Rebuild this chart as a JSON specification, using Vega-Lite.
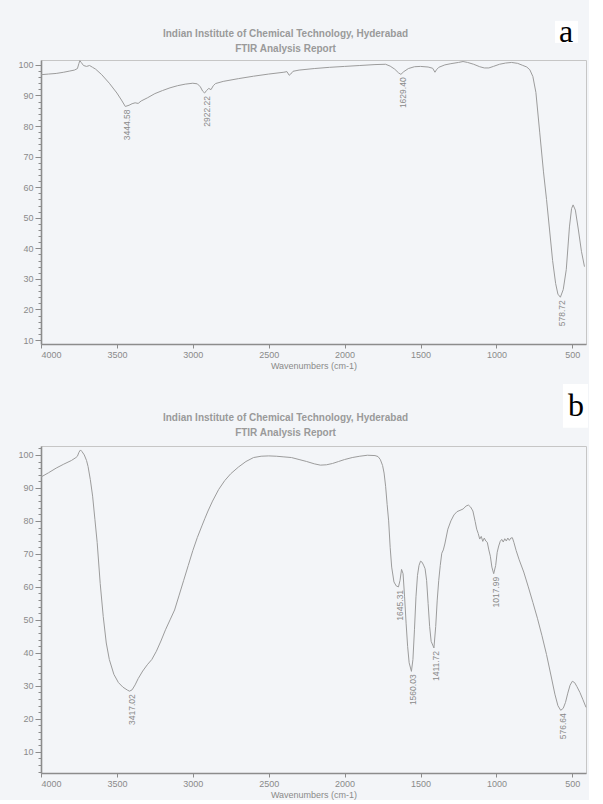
{
  "$schema": "https://vega.github.io/schema/vega-lite/v6.json",
  "background": "#f3f5f8",
  "padding": {"left": 17, "top": 15, "right": 0, "bottom": 0},
  "spacing": 12,
  "config": {
    "font": "Liberation Sans",
    "view": {"stroke": "#c6c6c6", "strokeWidth": 1},
    "axis": {"labelColor": "#8a8a8a", "labelFontSize": 9, "domainColor": "#8c8c8c", "domainWidth": 1.6, "tickColor": "#8c8c8c", "grid": false, "titleColor": "#8a8a8a", "titleFontSize": 9, "titleFontWeight": "normal", "labelFont": "Liberation Sans", "titleFont": "Liberation Sans", "labelOverlap": false},
    "title": {"font": "Liberation Sans", "fontSize": 10, "fontWeight": "bold", "color": "#9a9a9a", "anchor": "middle", "lineHeight": 15, "dx": -28}
  },
  "datasets": {
    "a": [
      {"wn": 4000, "t": 96.8}, {"wn": 3950, "t": 97.0}, {"wn": 3900, "t": 97.2}, {"wn": 3850, "t": 97.6}, {"wn": 3810, "t": 98.0},
      {"wn": 3780, "t": 98.3}, {"wn": 3760, "t": 98.8}, {"wn": 3750, "t": 100.5}, {"wn": 3744, "t": 101.4}, {"wn": 3735, "t": 100.8},
      {"wn": 3720, "t": 99.8}, {"wn": 3700, "t": 99.5}, {"wn": 3680, "t": 99.8}, {"wn": 3660, "t": 99.2}, {"wn": 3640, "t": 98.6},
      {"wn": 3600, "t": 96.8}, {"wn": 3550, "t": 94.0}, {"wn": 3500, "t": 90.8}, {"wn": 3470, "t": 88.5}, {"wn": 3444.58, "t": 86.4},
      {"wn": 3420, "t": 86.8}, {"wn": 3400, "t": 87.3}, {"wn": 3380, "t": 87.6}, {"wn": 3360, "t": 87.4}, {"wn": 3340, "t": 88.2},
      {"wn": 3300, "t": 89.2}, {"wn": 3250, "t": 90.6}, {"wn": 3200, "t": 91.6}, {"wn": 3150, "t": 92.5}, {"wn": 3100, "t": 93.2},
      {"wn": 3050, "t": 93.7}, {"wn": 3000, "t": 94.0}, {"wn": 2970, "t": 93.8}, {"wn": 2950, "t": 92.8}, {"wn": 2935, "t": 91.4},
      {"wn": 2922.22, "t": 90.8}, {"wn": 2910, "t": 91.6}, {"wn": 2895, "t": 92.3}, {"wn": 2880, "t": 91.9}, {"wn": 2865, "t": 93.2},
      {"wn": 2850, "t": 93.9}, {"wn": 2800, "t": 94.6}, {"wn": 2700, "t": 95.5}, {"wn": 2600, "t": 96.3}, {"wn": 2500, "t": 97.0},
      {"wn": 2400, "t": 97.6}, {"wn": 2380, "t": 97.8}, {"wn": 2365, "t": 96.6}, {"wn": 2355, "t": 97.0}, {"wn": 2340, "t": 97.9},
      {"wn": 2300, "t": 98.3}, {"wn": 2200, "t": 98.8}, {"wn": 2100, "t": 99.2}, {"wn": 2000, "t": 99.5}, {"wn": 1900, "t": 99.8},
      {"wn": 1800, "t": 100.1}, {"wn": 1730, "t": 100.2}, {"wn": 1700, "t": 99.6}, {"wn": 1670, "t": 98.6}, {"wn": 1645, "t": 97.4},
      {"wn": 1629.40, "t": 96.9}, {"wn": 1610, "t": 97.8}, {"wn": 1580, "t": 98.8}, {"wn": 1540, "t": 99.4}, {"wn": 1500, "t": 99.5},
      {"wn": 1450, "t": 99.3}, {"wn": 1420, "t": 98.9}, {"wn": 1405, "t": 97.6}, {"wn": 1395, "t": 98.4}, {"wn": 1380, "t": 99.2},
      {"wn": 1340, "t": 100.0}, {"wn": 1300, "t": 100.4}, {"wn": 1250, "t": 100.8}, {"wn": 1220, "t": 101.1}, {"wn": 1190, "t": 100.8},
      {"wn": 1150, "t": 100.2}, {"wn": 1110, "t": 99.4}, {"wn": 1080, "t": 99.0}, {"wn": 1050, "t": 99.0}, {"wn": 1020, "t": 99.5},
      {"wn": 980, "t": 100.2}, {"wn": 940, "t": 100.6}, {"wn": 900, "t": 100.8}, {"wn": 860, "t": 100.5}, {"wn": 830, "t": 99.9},
      {"wn": 800, "t": 99.3}, {"wn": 780, "t": 98.4}, {"wn": 760, "t": 96.2}, {"wn": 740, "t": 91.0}, {"wn": 715, "t": 78.0},
      {"wn": 690, "t": 65.0}, {"wn": 670, "t": 56.0}, {"wn": 650, "t": 46.0}, {"wn": 630, "t": 36.0}, {"wn": 610, "t": 28.5},
      {"wn": 595, "t": 25.0}, {"wn": 578.72, "t": 24.0}, {"wn": 560, "t": 26.5}, {"wn": 540, "t": 33.0}, {"wn": 519, "t": 47.0},
      {"wn": 505, "t": 53.0}, {"wn": 495, "t": 54.2}, {"wn": 480, "t": 52.5}, {"wn": 460, "t": 46.0}, {"wn": 440, "t": 39.0},
      {"wn": 420, "t": 34.0}
    ],
    "peaksA": [
      {"wn": 3444.58, "t": 86.4}, {"wn": 2922.22, "t": 90.8}, {"wn": 1629.40, "t": 96.9}, {"wn": 578.72, "t": 24.0}
    ],
    "b": [
      {"wn": 4000, "t": 93.3}, {"wn": 3950, "t": 94.6}, {"wn": 3900, "t": 96.0}, {"wn": 3850, "t": 97.2}, {"wn": 3800, "t": 98.3},
      {"wn": 3770, "t": 99.2}, {"wn": 3760, "t": 99.6}, {"wn": 3750, "t": 100.8}, {"wn": 3740, "t": 101.5}, {"wn": 3730, "t": 101.0},
      {"wn": 3715, "t": 100.0}, {"wn": 3700, "t": 98.3}, {"wn": 3690, "t": 96.5}, {"wn": 3675, "t": 92.5}, {"wn": 3660, "t": 87.5},
      {"wn": 3645, "t": 80.5}, {"wn": 3630, "t": 73.5}, {"wn": 3610, "t": 61.0}, {"wn": 3590, "t": 51.0}, {"wn": 3570, "t": 43.0},
      {"wn": 3550, "t": 38.0}, {"wn": 3520, "t": 33.5}, {"wn": 3490, "t": 31.0}, {"wn": 3460, "t": 29.6}, {"wn": 3430, "t": 28.7},
      {"wn": 3417.02, "t": 28.4}, {"wn": 3400, "t": 28.8}, {"wn": 3380, "t": 30.3}, {"wn": 3360, "t": 32.2}, {"wn": 3330, "t": 34.5},
      {"wn": 3300, "t": 36.4}, {"wn": 3270, "t": 38.0}, {"wn": 3240, "t": 40.5}, {"wn": 3210, "t": 43.6}, {"wn": 3180, "t": 47.0},
      {"wn": 3150, "t": 50.0}, {"wn": 3120, "t": 53.0}, {"wn": 3090, "t": 57.5}, {"wn": 3060, "t": 62.0}, {"wn": 3030, "t": 66.5},
      {"wn": 3000, "t": 71.0}, {"wn": 2970, "t": 75.0}, {"wn": 2940, "t": 78.5}, {"wn": 2920, "t": 80.8}, {"wn": 2900, "t": 83.0},
      {"wn": 2870, "t": 86.0}, {"wn": 2830, "t": 89.5}, {"wn": 2790, "t": 92.2}, {"wn": 2750, "t": 94.3}, {"wn": 2700, "t": 96.3},
      {"wn": 2650, "t": 98.0}, {"wn": 2600, "t": 99.2}, {"wn": 2550, "t": 99.6}, {"wn": 2500, "t": 99.7}, {"wn": 2450, "t": 99.6},
      {"wn": 2400, "t": 99.4}, {"wn": 2350, "t": 99.2}, {"wn": 2300, "t": 98.6}, {"wn": 2250, "t": 98.0}, {"wn": 2200, "t": 97.3},
      {"wn": 2160, "t": 96.9}, {"wn": 2120, "t": 97.0}, {"wn": 2080, "t": 97.4}, {"wn": 2040, "t": 98.0}, {"wn": 2000, "t": 98.6},
      {"wn": 1950, "t": 99.2}, {"wn": 1900, "t": 99.6}, {"wn": 1850, "t": 99.9}, {"wn": 1800, "t": 99.8}, {"wn": 1780, "t": 99.5},
      {"wn": 1765, "t": 98.6}, {"wn": 1750, "t": 96.8}, {"wn": 1740, "t": 94.5}, {"wn": 1730, "t": 90.5}, {"wn": 1720, "t": 85.0},
      {"wn": 1710, "t": 80.0}, {"wn": 1700, "t": 72.0}, {"wn": 1690, "t": 66.0}, {"wn": 1675, "t": 61.5}, {"wn": 1660, "t": 60.3},
      {"wn": 1645.31, "t": 60.0}, {"wn": 1635, "t": 62.0}, {"wn": 1625, "t": 65.3}, {"wn": 1615, "t": 64.0}, {"wn": 1605, "t": 57.0},
      {"wn": 1595, "t": 49.0}, {"wn": 1585, "t": 42.0}, {"wn": 1575, "t": 37.0}, {"wn": 1560.03, "t": 34.4}, {"wn": 1550, "t": 38.0},
      {"wn": 1540, "t": 47.0}, {"wn": 1530, "t": 57.0}, {"wn": 1520, "t": 63.5}, {"wn": 1510, "t": 66.5}, {"wn": 1500, "t": 67.8},
      {"wn": 1490, "t": 67.5}, {"wn": 1480, "t": 66.6}, {"wn": 1470, "t": 65.5}, {"wn": 1460, "t": 62.0}, {"wn": 1450, "t": 55.0},
      {"wn": 1440, "t": 48.0}, {"wn": 1430, "t": 43.5}, {"wn": 1411.72, "t": 41.5}, {"wn": 1400, "t": 48.0}, {"wn": 1390, "t": 56.0},
      {"wn": 1380, "t": 62.0}, {"wn": 1370, "t": 66.5}, {"wn": 1360, "t": 70.2}, {"wn": 1350, "t": 71.2}, {"wn": 1340, "t": 73.0},
      {"wn": 1320, "t": 77.5}, {"wn": 1300, "t": 80.0}, {"wn": 1280, "t": 81.8}, {"wn": 1260, "t": 82.8}, {"wn": 1240, "t": 83.2},
      {"wn": 1220, "t": 83.6}, {"wn": 1200, "t": 84.5}, {"wn": 1185, "t": 84.8}, {"wn": 1170, "t": 84.2}, {"wn": 1155, "t": 83.0},
      {"wn": 1140, "t": 79.8}, {"wn": 1130, "t": 77.5}, {"wn": 1120, "t": 76.2}, {"wn": 1110, "t": 74.5}, {"wn": 1100, "t": 75.3},
      {"wn": 1090, "t": 73.8}, {"wn": 1080, "t": 74.8}, {"wn": 1070, "t": 73.9}, {"wn": 1060, "t": 73.5}, {"wn": 1050, "t": 71.2},
      {"wn": 1040, "t": 69.3}, {"wn": 1030, "t": 66.0}, {"wn": 1017.99, "t": 64.0}, {"wn": 1005, "t": 66.5}, {"wn": 995, "t": 70.5},
      {"wn": 985, "t": 72.4}, {"wn": 975, "t": 73.8}, {"wn": 965, "t": 74.4}, {"wn": 955, "t": 73.6}, {"wn": 945, "t": 74.6},
      {"wn": 935, "t": 73.9}, {"wn": 925, "t": 74.8}, {"wn": 915, "t": 74.1}, {"wn": 905, "t": 74.8}, {"wn": 895, "t": 74.9},
      {"wn": 885, "t": 73.5}, {"wn": 870, "t": 71.0}, {"wn": 850, "t": 68.2}, {"wn": 820, "t": 64.5}, {"wn": 790, "t": 60.0},
      {"wn": 760, "t": 55.3}, {"wn": 730, "t": 50.5}, {"wn": 700, "t": 45.2}, {"wn": 670, "t": 39.5}, {"wn": 640, "t": 33.0},
      {"wn": 615, "t": 27.5}, {"wn": 595, "t": 24.0}, {"wn": 576.64, "t": 22.6}, {"wn": 560, "t": 23.2}, {"wn": 545, "t": 25.0},
      {"wn": 530, "t": 27.8}, {"wn": 515, "t": 30.2}, {"wn": 500, "t": 31.4}, {"wn": 485, "t": 31.0}, {"wn": 470, "t": 29.8},
      {"wn": 450, "t": 28.0}, {"wn": 430, "t": 25.8}, {"wn": 410, "t": 23.5}
    ],
    "peaksB": [
      {"wn": 3417.02, "t": 28.4}, {"wn": 1645.31, "t": 60.0}, {"wn": 1560.03, "t": 34.4}, {"wn": 1411.72, "t": 41.5},
      {"wn": 1017.99, "t": 64.0}, {"wn": 576.64, "t": 22.6}
    ]
  },
  "vconcat": [
    {
      "width": 545,
      "height": 284,
      "title": {"text": ["Indian Institute of Chemical Technology, Hyderabad", "FTIR Analysis Report"], "offset": -38},
      "layer": [
        {
          "data": {"name": "a"},
          "mark": {"type": "line", "color": "#9c9c9c", "strokeWidth": 1},
          "encoding": {
            "x": {"field": "wn", "type": "quantitative", "scale": {"domain": [4000, 410], "nice": false, "zero": false},
                  "axis": {"values": [4000, 3500, 3000, 2500, 2000, 1500, 1000, 500], "tickCount": 100, "format": "d", "title": "Wavenumbers (cm-1)", "tickSize": 4, "labelPadding": 2, "titlePadding": 2}},
            "y": {"field": "t", "type": "quantitative", "scale": {"domain": [8.7, 101.6], "nice": false, "zero": false},
                  "axis": {"title": null, "tickCount": 200, "values": [10,12,14,16,18,20,22,24,26,28,30,32,34,36,38,40,42,44,46,48,50,52,54,56,58,60,62,64,66,68,70,72,74,76,78,80,82,84,86,88,90,92,94,96,98,100],
                           "labelExpr": "datum.value % 10 === 0 ? datum.label : ''", "labelOverlap": false, "labelPadding": 2, "format": "d",
                           "tickSize": {"condition": {"test": "datum.value % 10 === 0", "value": 6}, "value": 3}}}
          }
        },
        {
          "data": {"name": "peaksA"},
          "mark": {"type": "text", "angle": 270, "align": "right", "baseline": "middle", "dx": -3, "dy": 2, "fontSize": 8.5, "color": "#8a8a8a"},
          "encoding": {
            "x": {"field": "wn", "type": "quantitative", "scale": {"domain": [4000, 410], "nice": false, "zero": false}},
            "y": {"field": "t", "type": "quantitative", "scale": {"domain": [8.7, 101.6], "nice": false, "zero": false}},
            "text": {"field": "wn", "type": "quantitative", "format": ".2f"}
          }
        },
        {
          "data": {"values": [{}]},
          "mark": {"type": "rect", "color": "#ffffff"},
          "encoding": {
            "x": {"datum": 614, "type": "quantitative", "scale": {"domain": [4000, 410], "nice": false, "zero": false}},
            "x2": {"datum": 463},
            "y": {"datum": 114.4, "type": "quantitative", "scale": {"domain": [8.7, 101.6], "nice": false, "zero": false}},
            "y2": {"datum": 107.2}
          }
        },
        {
          "data": {"values": [{}]},
          "mark": {"type": "text", "font": "Liberation Serif", "fontSize": 32, "color": "#000000", "baseline": "middle", "align": "center"},
          "encoding": {
            "x": {"datum": 541, "type": "quantitative", "scale": {"domain": [4000, 410], "nice": false, "zero": false}},
            "y": {"datum": 110.8, "type": "quantitative", "scale": {"domain": [8.7, 101.6], "nice": false, "zero": false}},
            "text": {"value": "a"}
          }
        }
      ]
    },
    {
      "width": 545,
      "height": 327,
      "title": {"text": ["Indian Institute of Chemical Technology, Hyderabad", "FTIR Analysis Report"], "offset": -54},
      "layer": [
        {
          "data": {"name": "b"},
          "mark": {"type": "line", "color": "#9c9c9c", "strokeWidth": 1},
          "encoding": {
            "x": {"field": "wn", "type": "quantitative", "scale": {"domain": [4000, 410], "nice": false, "zero": false},
                  "axis": {"values": [4000, 3500, 3000, 2500, 2000, 1500, 1000, 500], "tickCount": 100, "format": "d", "title": "Wavenumbers (cm-1)", "tickSize": 4, "labelPadding": 2, "titlePadding": 2}},
            "y": {"field": "t", "type": "quantitative", "scale": {"domain": [3.6, 102.7], "nice": false, "zero": false},
                  "axis": {"title": null, "tickCount": 200, "values": [4,6,8,10,12,14,16,18,20,22,24,26,28,30,32,34,36,38,40,42,44,46,48,50,52,54,56,58,60,62,64,66,68,70,72,74,76,78,80,82,84,86,88,90,92,94,96,98,100,102],
                           "labelExpr": "datum.value % 10 === 0 ? datum.label : ''", "labelOverlap": false, "labelPadding": 2, "format": "d",
                           "tickSize": {"condition": {"test": "datum.value % 10 === 0", "value": 6}, "value": 3}}}
          }
        },
        {
          "data": {"name": "peaksB"},
          "mark": {"type": "text", "angle": 270, "align": "right", "baseline": "middle", "dx": -3, "dy": 2, "fontSize": 8.5, "color": "#8a8a8a"},
          "encoding": {
            "x": {"field": "wn", "type": "quantitative", "scale": {"domain": [4000, 410], "nice": false, "zero": false}},
            "y": {"field": "t", "type": "quantitative", "scale": {"domain": [3.6, 102.7], "nice": false, "zero": false}},
            "text": {"field": "wn", "type": "quantitative", "format": ".2f"}
          }
        },
        {
          "data": {"values": [{}]},
          "mark": {"type": "rect", "color": "#ffffff"},
          "encoding": {
            "x": {"datum": 562, "type": "quantitative", "scale": {"domain": [4000, 410], "nice": false, "zero": false}},
            "x2": {"datum": 397},
            "y": {"datum": 121.5, "type": "quantitative", "scale": {"domain": [3.6, 102.7], "nice": false, "zero": false}},
            "y2": {"datum": 108.2}
          }
        },
        {
          "data": {"values": [{}]},
          "mark": {"type": "text", "font": "Liberation Serif", "fontSize": 32, "color": "#000000", "baseline": "middle", "align": "center"},
          "encoding": {
            "x": {"datum": 476, "type": "quantitative", "scale": {"domain": [4000, 410], "nice": false, "zero": false}},
            "y": {"datum": 114.8, "type": "quantitative", "scale": {"domain": [3.6, 102.7], "nice": false, "zero": false}},
            "text": {"value": "b"}
          }
        }
      ]
    }
  ]
}
